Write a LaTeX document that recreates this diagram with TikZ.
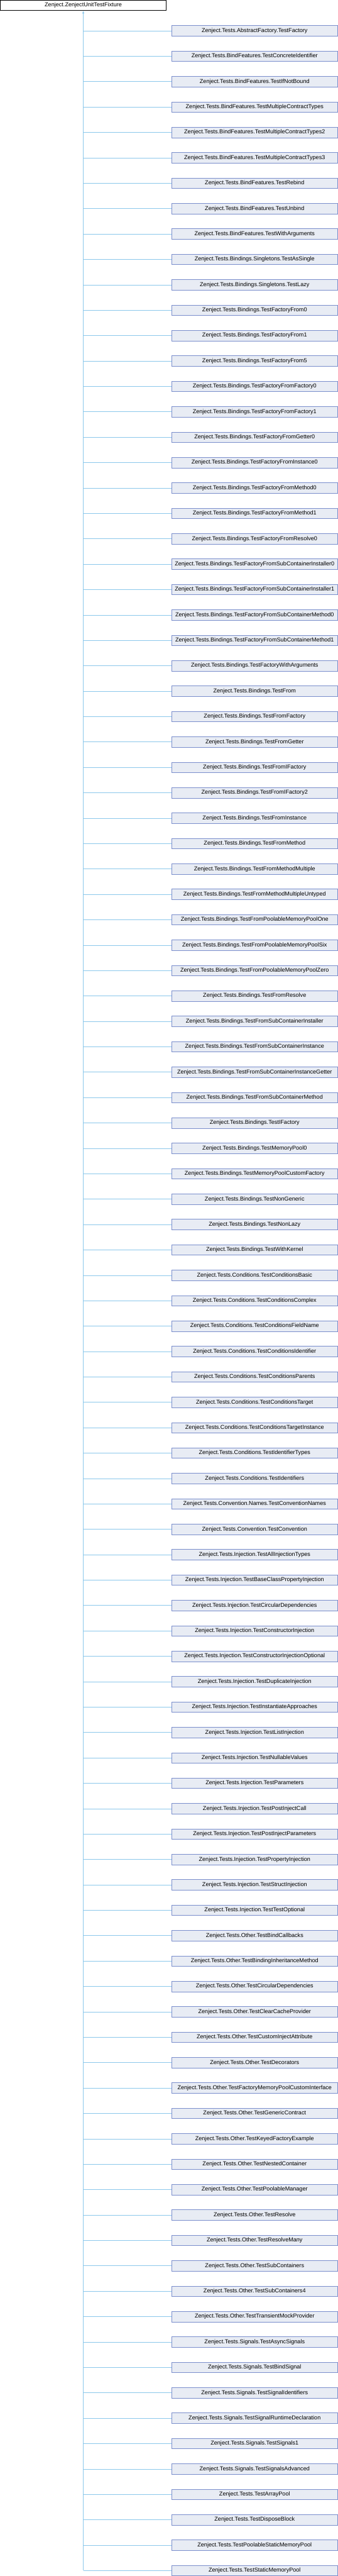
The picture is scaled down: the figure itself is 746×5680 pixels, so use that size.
\documentclass[tikz,border=0pt]{standalone}
\usepackage{fontspec}
\setmainfont{Liberation Sans}
\usetikzlibrary{arrows.meta}
\definecolor{linecol}{RGB}{140,200,235}
\definecolor{boxfill}{RGB}{232,236,244}
\definecolor{boxdraw}{RGB}{122,142,204}
\tikzset{
  rootbox/.style={draw=black, fill=white, line width=0.9pt, minimum width=366pt, minimum height=23pt, inner sep=0pt, font=\fontsize{12.6}{14}\selectfont},
  childbox/.style={draw=boxdraw, fill=boxfill, line width=0.9pt, minimum width=366pt, minimum height=23pt, inner sep=0pt, font=\fontsize{12.6}{14}\selectfont},
  conn/.style={draw=linecol, line width=0.9pt}
}
\begin{document}
\begin{tikzpicture}[x=1pt,y=-1pt]
\useasboundingbox (0,0) rectangle (746,5680);
\node[rootbox] (root) at (183.8,11.8) {Zenject.ZenjectUnitTestFixture};
\foreach \n [count=\i] in {
Zenject.Tests.AbstractFactory.TestFactory,
Zenject.Tests.BindFeatures.TestConcreteIdentifier,
Zenject.Tests.BindFeatures.TestIfNotBound,
Zenject.Tests.BindFeatures.TestMultipleContractTypes,
Zenject.Tests.BindFeatures.TestMultipleContractTypes2,
Zenject.Tests.BindFeatures.TestMultipleContractTypes3,
Zenject.Tests.BindFeatures.TestRebind,
Zenject.Tests.BindFeatures.TestUnbind,
Zenject.Tests.BindFeatures.TestWithArguments,
Zenject.Tests.Bindings.Singletons.TestAsSingle,
Zenject.Tests.Bindings.Singletons.TestLazy,
Zenject.Tests.Bindings.TestFactoryFrom0,
Zenject.Tests.Bindings.TestFactoryFrom1,
Zenject.Tests.Bindings.TestFactoryFrom5,
Zenject.Tests.Bindings.TestFactoryFromFactory0,
Zenject.Tests.Bindings.TestFactoryFromFactory1,
Zenject.Tests.Bindings.TestFactoryFromGetter0,
Zenject.Tests.Bindings.TestFactoryFromInstance0,
Zenject.Tests.Bindings.TestFactoryFromMethod0,
Zenject.Tests.Bindings.TestFactoryFromMethod1,
Zenject.Tests.Bindings.TestFactoryFromResolve0,
Zenject.Tests.Bindings.TestFactoryFromSubContainerInstaller0,
Zenject.Tests.Bindings.TestFactoryFromSubContainerInstaller1,
Zenject.Tests.Bindings.TestFactoryFromSubContainerMethod0,
Zenject.Tests.Bindings.TestFactoryFromSubContainerMethod1,
Zenject.Tests.Bindings.TestFactoryWithArguments,
Zenject.Tests.Bindings.TestFrom,
Zenject.Tests.Bindings.TestFromFactory,
Zenject.Tests.Bindings.TestFromGetter,
Zenject.Tests.Bindings.TestFromIFactory,
Zenject.Tests.Bindings.TestFromIFactory2,
Zenject.Tests.Bindings.TestFromInstance,
Zenject.Tests.Bindings.TestFromMethod,
Zenject.Tests.Bindings.TestFromMethodMultiple,
Zenject.Tests.Bindings.TestFromMethodMultipleUntyped,
Zenject.Tests.Bindings.TestFromPoolableMemoryPoolOne,
Zenject.Tests.Bindings.TestFromPoolableMemoryPoolSix,
Zenject.Tests.Bindings.TestFromPoolableMemoryPoolZero,
Zenject.Tests.Bindings.TestFromResolve,
Zenject.Tests.Bindings.TestFromSubContainerInstaller,
Zenject.Tests.Bindings.TestFromSubContainerInstance,
Zenject.Tests.Bindings.TestFromSubContainerInstanceGetter,
Zenject.Tests.Bindings.TestFromSubContainerMethod,
Zenject.Tests.Bindings.TestIFactory,
Zenject.Tests.Bindings.TestMemoryPool0,
Zenject.Tests.Bindings.TestMemoryPoolCustomFactory,
Zenject.Tests.Bindings.TestNonGeneric,
Zenject.Tests.Bindings.TestNonLazy,
Zenject.Tests.Bindings.TestWithKernel,
Zenject.Tests.Conditions.TestConditionsBasic,
Zenject.Tests.Conditions.TestConditionsComplex,
Zenject.Tests.Conditions.TestConditionsFieldName,
Zenject.Tests.Conditions.TestConditionsIdentifier,
Zenject.Tests.Conditions.TestConditionsParents,
Zenject.Tests.Conditions.TestConditionsTarget,
Zenject.Tests.Conditions.TestConditionsTargetInstance,
Zenject.Tests.Conditions.TestIdentifierTypes,
Zenject.Tests.Conditions.TestIdentifiers,
Zenject.Tests.Convention.Names.TestConventionNames,
Zenject.Tests.Convention.TestConvention,
Zenject.Tests.Injection.TestAllInjectionTypes,
Zenject.Tests.Injection.TestBaseClassPropertyInjection,
Zenject.Tests.Injection.TestCircularDependencies,
Zenject.Tests.Injection.TestConstructorInjection,
Zenject.Tests.Injection.TestConstructorInjectionOptional,
Zenject.Tests.Injection.TestDuplicateInjection,
Zenject.Tests.Injection.TestInstantiateApproaches,
Zenject.Tests.Injection.TestListInjection,
Zenject.Tests.Injection.TestNullableValues,
Zenject.Tests.Injection.TestParameters,
Zenject.Tests.Injection.TestPostInjectCall,
Zenject.Tests.Injection.TestPostInjectParameters,
Zenject.Tests.Injection.TestPropertyInjection,
Zenject.Tests.Injection.TestStructInjection,
Zenject.Tests.Injection.TestTestOptional,
Zenject.Tests.Other.TestBindCallbacks,
Zenject.Tests.Other.TestBindingInheritanceMethod,
Zenject.Tests.Other.TestCircularDependencies,
Zenject.Tests.Other.TestClearCacheProvider,
Zenject.Tests.Other.TestCustomInjectAttribute,
Zenject.Tests.Other.TestDecorators,
Zenject.Tests.Other.TestFactoryMemoryPoolCustomInterface,
Zenject.Tests.Other.TestGenericContract,
Zenject.Tests.Other.TestKeyedFactoryExample,
Zenject.Tests.Other.TestNestedContainer,
Zenject.Tests.Other.TestPoolableManager,
Zenject.Tests.Other.TestResolve,
Zenject.Tests.Other.TestResolveMany,
Zenject.Tests.Other.TestSubContainers,
Zenject.Tests.Other.TestSubContainers4,
Zenject.Tests.Other.TestTransientMockProvider,
Zenject.Tests.Signals.TestAsyncSignals,
Zenject.Tests.Signals.TestBindSignal,
Zenject.Tests.Signals.TestSignalIdentifiers,
Zenject.Tests.Signals.TestSignalRuntimeDeclaration,
Zenject.Tests.Signals.TestSignals1,
Zenject.Tests.Signals.TestSignalsAdvanced,
Zenject.Tests.TestArrayPool,
Zenject.Tests.TestDisposeBlock,
Zenject.Tests.TestPoolableStaticMemoryPool,
Zenject.Tests.TestStaticMemoryPool}
{
  \node[childbox] (c\i) at (562,{68+56*(\i-1)}) {\n};
  \draw[conn] (root.south |- c\i.west) -- (c\i.west);
}
\draw[conn,{Latex[length=6pt,width=5pt]}-] (root.south) -- (root.south |- c101.west);
\end{tikzpicture}
\end{document}
